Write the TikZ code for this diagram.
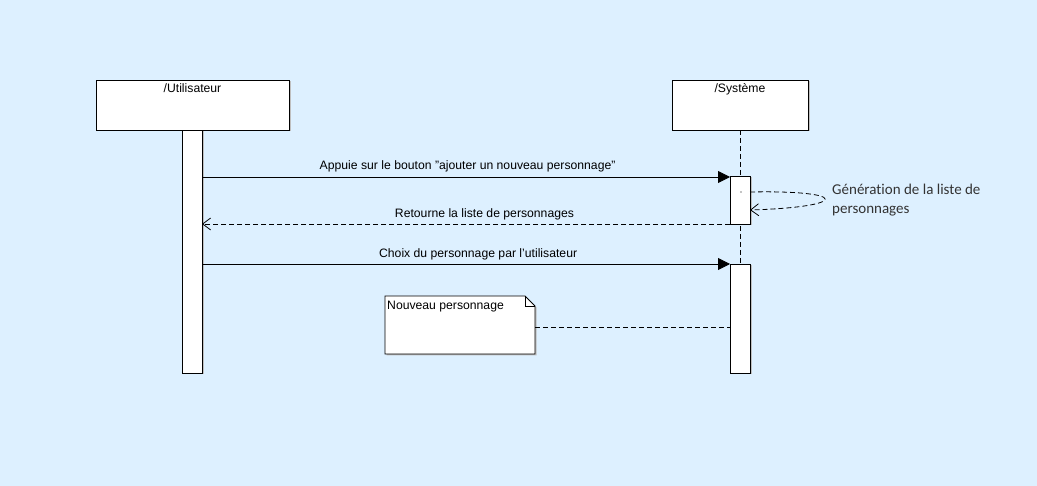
\documentclass[tikz,border=0pt]{standalone}
\usepackage{fontspec}
\setmainfont{Liberation Sans}
\newfontfamily\calib[Ligatures=NoCommon]{Carlito}
\usetikzlibrary{arrows.meta,shadows,shapes.misc}
\definecolor{bgc}{HTML}{DDF0FF}
\definecolor{txtc}{HTML}{333333}
\tikzset{
  shd/.style={drop shadow={shadow xshift=1.5pt,shadow yshift=-1.5pt,fill=black!25,opacity=1}},
  boxst/.style={draw=black,fill=white,line width=0.9pt,shd},
  lbl/.style={font=\fontsize{12.2}{14}\selectfont,inner sep=0pt},
  msg/.style={line width=0.8pt,-{Triangle[length=12pt,width=12pt]}},
  ret/.style={line width=0.8pt,dash pattern=on 5pt off 3pt,-{Straight Barb[length=8pt,width=12pt,line width=0.8pt]}},
}
\begin{document}
\begin{tikzpicture}[x=1pt,y=-1pt]
\useasboundingbox (0,0) rectangle (1037,486);
\fill[bgc] (0,0) rectangle (1037,486);
% lifeline Systeme
\coordinate (ltop) at (740,130);
\coordinate (lbot) at (740,264);
\draw[line width=0.8pt,dash pattern=on 5pt off 3pt] (ltop) -- (lbot);
% participant boxes
\draw[boxst] (96,80) rectangle (289,130);
\node[lbl,anchor=north] (u) at (192.5,83) {/Utilisateur};
\draw[boxst] (672,80) rectangle (808,130);
\node[lbl,anchor=north] (s) at (740,83) {/Système};
% activation bars
\draw[boxst] (182,130) rectangle (202,373);
\coordinate (ua1) at (202,177);
\coordinate (ua2) at (202,224);
\coordinate (ua3) at (202,264);
\draw[boxst] (730,176) rectangle (750,224);
\draw[boxst] (730,264) rectangle (750,373);
\coordinate (sa1) at (730,177);
\coordinate (sa2) at (730,224);
\coordinate (sa3) at (730,264);
% messages
\draw[msg] (ua1) -- node[lbl,above=4.5pt,pos=0.503] (m1) {Appuie sur le bouton "ajouter un nouveau personnage"} (sa1);
\draw[ret] (sa2) -- node[lbl,above=4pt,pos=0.465] (m2) {Retourne la liste de personnages} (ua2);
\draw[msg] (ua3) -- node[lbl,above=3.5pt,pos=0.523] (m3) {Choix du personnage par l'utilisateur} (sa3);
% self message
\coordinate (self1) at (750,192);
\coordinate (self2) at (750,210);
\fill (741,192) circle (0.6pt);
\draw[ret] (self1) .. controls (850,190) and (850,207) .. (self2);
\node[anchor=north west,inner sep=0pt,align=left,text=txtc,font=\calib\fontsize{15}{19}\selectfont] (gen) at (832,184) {Génération de la liste de\\personnages};
% note
\draw[boxst] (385,296) -- (525,296) -- (535,306) -- (535,354) -- (385,354) -- cycle;
\draw[line width=0.6pt] (525,296) -- (525,306) -- (535,306);
\node[lbl,anchor=north west] (note) at (387,301) {Nouveau personnage};
\coordinate (n1) at (535,327);
\coordinate (n2) at (730,327);
\draw[line width=0.8pt,dash pattern=on 5pt off 3pt] (n1) -- (n2);
\end{tikzpicture}
\end{document}
